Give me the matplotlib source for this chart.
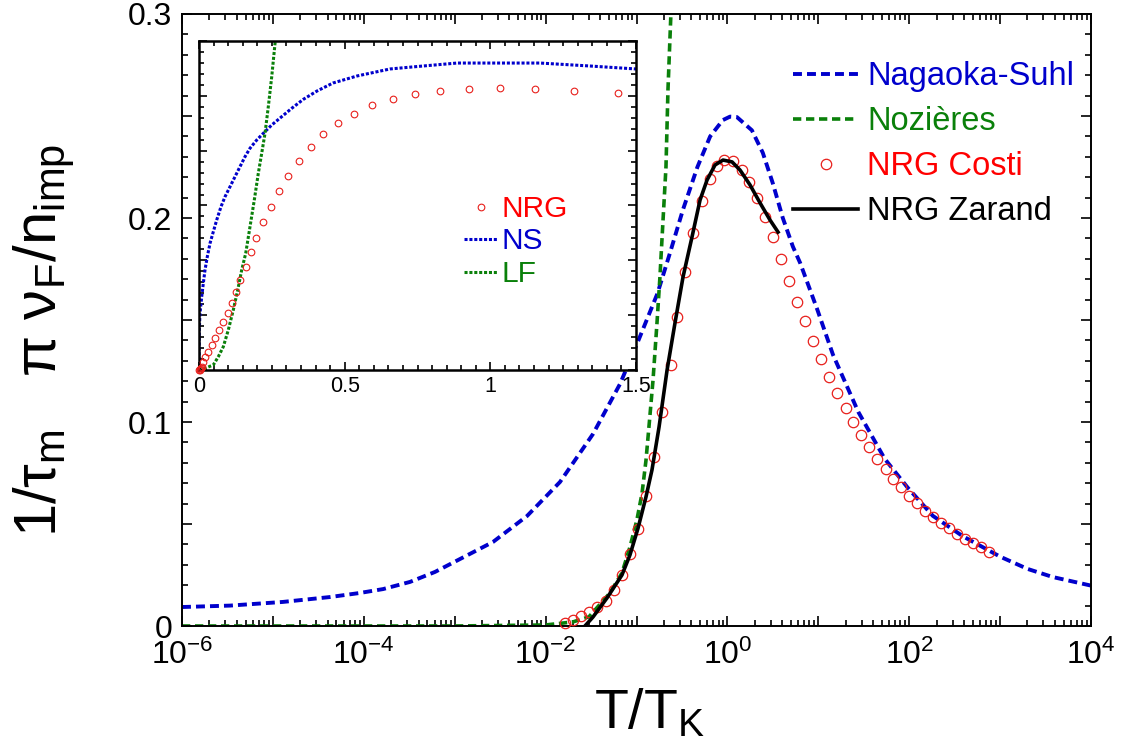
import math
import matplotlib
matplotlib.use("Agg")
import matplotlib.pyplot as plt
from matplotlib.ticker import MultipleLocator, LogLocator, FuncFormatter, NullFormatter

plt.rcParams['font.family'] = ['Liberation Sans', 'DejaVu Sans']
plt.rcParams['mathtext.fontset'] = 'custom'
plt.rcParams['mathtext.rm'] = 'Liberation Sans'
plt.rcParams['mathtext.it'] = 'Liberation Sans:italic'
plt.rcParams['mathtext.bf'] = 'Liberation Sans:bold'

# ---------------- main panel data (T/T_K, 1/tau_m * pi nu_F / n_imp) ----------------
ns_T = [1e-6, 3.37e-6, 1.29e-5, 4.25e-5, 9.08e-5, 1.63e-4, 3.22e-4, 6.07e-4, 1.14e-3,
        2.64e-3, 6.24e-3, 0.0144, 0.0332, 0.0658, 0.105, 0.170, 0.234, 0.324, 0.468,
        0.646, 0.891, 1.07, 1.27, 1.86, 2.45, 3.16, 4.07, 5.25, 6.31, 9.77, 14.5,
        27.5, 53.7, 95.5, 182, 389, 1000, 2000, 3800, 10000]
ns_val = [0.0093, 0.0100, 0.0118, 0.0142, 0.0162, 0.0181, 0.0216, 0.0265, 0.0328,
          0.0412, 0.0539, 0.0706, 0.0941, 0.1186, 0.140, 0.163, 0.183, 0.204, 0.225,
          0.240, 0.248, 0.2497, 0.2495, 0.243, 0.232, 0.217, 0.200, 0.186, 0.178,
          0.155, 0.133, 0.105, 0.082, 0.068, 0.054, 0.044, 0.034, 0.028, 0.024, 0.0198]

noz_T = [1e-6, 1e-4, 1e-3, 0.01, 0.02, 0.03, 0.051, 0.0692, 0.0847, 0.101, 0.115,
         0.127, 0.137, 0.152, 0.168, 0.181, 0.195, 0.211, 0.222, 0.239, 0.26]
noz_val = [0.0, 0.0, 0.000005, 0.0005, 0.002, 0.0045, 0.0162, 0.026, 0.0387, 0.052,
           0.065, 0.081, 0.0975, 0.1206, 0.1485, 0.171, 0.1975, 0.225, 0.263, 0.300, 0.34]

costi_T = [0.0163, 0.0200, 0.0245, 0.0300, 0.0367, 0.0461, 0.0565, 0.0692, 0.0847,
           0.104, 0.127, 0.156, 0.191, 0.240, 0.279, 0.342, 0.419, 0.526, 0.644,
           0.769, 0.918, 1.15, 1.45, 1.73, 2.12, 2.59, 3.18, 3.89, 4.76, 5.83, 7.15,
           8.75, 10.7, 13.1, 16.1, 20.2, 24.1, 29.5, 36.1, 44.3, 55.6, 66.4, 81.3,
           99.5, 122, 149, 183, 224, 274, 336, 411, 504, 617, 755]
costi_val = [0.0015, 0.0029, 0.0049, 0.0069, 0.0093, 0.0123, 0.0176, 0.0250, 0.0353,
             0.0475, 0.0637, 0.0828, 0.1049, 0.1279, 0.1515, 0.1735, 0.1926, 0.2083,
             0.2191, 0.2255, 0.2284, 0.2279, 0.2235, 0.2176, 0.2098, 0.2005, 0.1907,
             0.1799, 0.1691, 0.1588, 0.1495, 0.1397, 0.1309, 0.1221, 0.1142, 0.1069,
             0.1000, 0.0936, 0.0877, 0.0819, 0.0770, 0.0721, 0.0681, 0.0637, 0.0603,
             0.0564, 0.0534, 0.0505, 0.0480, 0.0451, 0.0426, 0.0407, 0.0387, 0.0363]

zarand_T = [0.0271, 0.0332, 0.0473, 0.0692, 0.0847, 0.104, 0.127, 0.148, 0.177,
            0.217, 0.265, 0.325, 0.408, 0.500, 0.597, 0.731, 0.895, 1.125, 1.377,
            1.774, 2.286, 2.944, 3.606]
zarand_val = [0.0, 0.0044, 0.0137, 0.025, 0.0348, 0.048, 0.0632, 0.0765, 0.0975,
              0.1255, 0.1485, 0.1711, 0.1907, 0.2088, 0.2186, 0.2260, 0.2284, 0.2275,
              0.2235, 0.2162, 0.2074, 0.1990, 0.1931]

x_tick_exps = [-6, -4, -2, 0, 2, 4]
y_tick_labels = ['0', '0.1', '0.2', '0.3']
legend_labels = ['Nagaoka-Suhl', 'Nozières', 'NRG Costi', 'NRG Zarand']

# ---------------- inset data (linear T/T_K) ----------------
in_nrg_T = [0.0, 0.002, 0.004, 0.007, 0.010, 0.014, 0.021, 0.032, 0.044, 0.055,
            0.070, 0.083, 0.099, 0.112, 0.126, 0.141, 0.160, 0.177, 0.196, 0.220,
            0.246, 0.275, 0.306, 0.343, 0.383, 0.426, 0.478, 0.533, 0.594, 0.665,
            0.743, 0.828, 0.927, 1.033, 1.153, 1.288, 1.439]
in_nrg_val = [0.0, 0.0003, 0.001, 0.002, 0.003, 0.0073, 0.0121, 0.0167, 0.0228,
              0.0289, 0.0365, 0.0435, 0.0517, 0.0608, 0.0709, 0.0821, 0.0942, 0.1073,
              0.1201, 0.1347, 0.1489, 0.1632, 0.1772, 0.1909, 0.2036, 0.2149, 0.2255,
              0.2334, 0.2414, 0.2471, 0.2514, 0.2547, 0.2562, 0.2571, 0.2562, 0.2547,
              0.2523]
in_ns_T = [0.0, 0.001, 0.0034, 0.0093, 0.0148, 0.0206, 0.0285, 0.0378, 0.0491, 0.0608,
           0.0755, 0.0893, 0.1064, 0.1236, 0.1407, 0.1579, 0.1751, 0.1981, 0.2207,
           0.2496, 0.2839, 0.3182, 0.3581, 0.4051, 0.460, 0.5424, 0.6557, 0.769,
           0.8857, 0.999, 1.1706, 1.342, 1.5]
in_ns_val = [0.0, 0.0365, 0.0517, 0.0668, 0.0791, 0.0912, 0.1033, 0.1155, 0.1261,
             0.1368, 0.1489, 0.1580, 0.1671, 0.1763, 0.1854, 0.1945, 0.2022, 0.2097,
             0.2158, 0.2234, 0.2310, 0.2386, 0.2468, 0.2544, 0.2617, 0.2681, 0.2745,
             0.2772, 0.2799, 0.2799, 0.2799, 0.2772, 0.2745]
in_lf_T = [0.0, 0.025, 0.0491, 0.0663, 0.0834, 0.1006, 0.1177, 0.1329, 0.1466, 0.1603,
           0.1751, 0.1898, 0.2036, 0.2152, 0.2266, 0.2379, 0.2496, 0.261, 0.27]
in_lf_val = [0.0, 0.002, 0.0046, 0.0121, 0.0212, 0.0365, 0.0547, 0.0729, 0.0912,
             0.1064, 0.1307, 0.1550, 0.1794, 0.1976, 0.2158, 0.2401, 0.2674, 0.2979, 0.32]
in_x_ticks = [0, 0.5, 1, 1.5]
in_x_labels = ['0', '0.5', '1', '1.5']
in_legend_labels = ['NRG', 'NS', 'LF']

BLUE = '#0000cc'
GREEN = '#0a800a'
RED = '#e8201c'
W, H = 1122, 742

fig = plt.figure(figsize=(W / 100, H / 100), dpi=100)
ax = fig.add_axes([182 / W, 1 - 626 / H, 909 / W, 612 / H])

l_ns, = ax.plot(ns_T, ns_val, color=BLUE, lw=2.8, dashes=(2.3, 1.3))
l_noz, = ax.plot(noz_T, noz_val, color=GREEN, lw=2.6, dashes=(2.3, 1.3))
l_costi, = ax.plot(costi_T, costi_val, ls='none', marker='o', ms=7.5, mfc='none',
                   mec=RED, mew=0.9, clip_on=False, zorder=3)
l_zar, = ax.plot(zarand_T, zarand_val, color='black', lw=2.6, zorder=4)

ax.set_xscale('log')
ax.set_xlim(1e-6, 1e4)
ax.set_ylim(0, 0.3)

ax.xaxis.set_major_locator(LogLocator(base=10, numticks=30))
ax.xaxis.set_minor_locator(LogLocator(base=10, subs=[2, 3, 4, 5, 6, 7, 8, 9], numticks=30))


def xfmt(v, p):
    e = round(math.log10(v))
    return (r'$\mathregular{10^{%d}}$' % e) if e in x_tick_exps else ''


ax.xaxis.set_major_formatter(FuncFormatter(xfmt))
ax.xaxis.set_minor_formatter(NullFormatter())

ax.yaxis.set_major_locator(MultipleLocator(0.05))
ax.yaxis.set_minor_locator(MultipleLocator(0.01))


def yfmt(v, p):
    k = round(v * 10)
    if abs(v * 10 - k) < 1e-6 and 0 <= k < len(y_tick_labels):
        return y_tick_labels[k]
    return ''


ax.yaxis.set_major_formatter(FuncFormatter(yfmt))

ax.tick_params(which='both', direction='in', top=True, right=True, width=1.2,
               labelsize=23)
ax.tick_params(which='major', length=7.5)
ax.tick_params(which='minor', length=4)
ax.tick_params(axis='x', which='major', pad=10)
ax.tick_params(axis='y', which='major', pad=7)
for s in ax.spines.values():
    s.set_linewidth(1.4)

fig.text(650 / W, 1 - 714 / H, r'$\mathregular{T/T_K}$', fontsize=40,
         ha='center', va='center')
fig.text(44 / W, 1 - 340 / H, r'$\mathregular{1/\tau_m\ \ \ \pi\ \nu_F/n_{imp}}$',
         fontsize=43, rotation=90, ha='center', va='center')

leg = ax.legend([l_ns, l_noz, l_costi, l_zar], legend_labels, loc='upper left',
                bbox_to_anchor=(793 / W, 1 - 61 / H), bbox_transform=fig.transFigure,
                frameon=False, fontsize=23.5, handlelength=2.0, handletextpad=0.27,
                labelspacing=0.43, borderpad=0, borderaxespad=0, numpoints=1)
for t, c in zip(leg.get_texts(), [BLUE, GREEN, '#ff0000', 'black']):
    t.set_color(c)

# ---------------- inset ----------------
axi = fig.add_axes([199 / W, 1 - 370 / H, 437 / W, 329 / H])
axi.set_facecolor('white')
i_nrg, = axi.plot(in_nrg_T, in_nrg_val, ls='none', marker='o', ms=4.8, mfc='none',
                  mec=RED, mew=0.8, clip_on=False, zorder=3)
i_ns, = axi.plot(in_ns_T, in_ns_val, color=BLUE, lw=2.2, dashes=(1, 0.6))
i_lf, = axi.plot(in_lf_T, in_lf_val, color=GREEN, lw=2.2, dashes=(1, 0.6))
axi.set_xlim(0, 1.5)
axi.set_ylim(0, 0.3)
axi.set_xticks(in_x_ticks)
axi.set_xticklabels(in_x_labels)
axi.xaxis.set_minor_locator(MultipleLocator(0.05))
axi.yaxis.set_major_locator(MultipleLocator(0.05))
axi.yaxis.set_minor_locator(MultipleLocator(0.01))
axi.tick_params(which='both', direction='in', top=True, right=True, width=1.2,
                labelsize=15.5, labelleft=False)
axi.tick_params(which='major', length=6)
axi.tick_params(which='minor', length=3.5)
axi.tick_params(axis='x', which='major', pad=4)
for s in axi.spines.values():
    s.set_linewidth(1.8)

ileg = axi.legend([i_nrg, i_ns, i_lf], in_legend_labels, loc='upper left',
                  bbox_to_anchor=(464 / W, 1 - 195 / H), bbox_transform=fig.transFigure,
                  frameon=False, fontsize=21.5, handlelength=1.13, handletextpad=0.13,
                  labelspacing=0.15, borderpad=0, borderaxespad=0, numpoints=1)
for t, c in zip(ileg.get_texts(), ['#ff0000', BLUE, GREEN]):
    t.set_color(c)

fig.savefig('out.png', dpi=100)
